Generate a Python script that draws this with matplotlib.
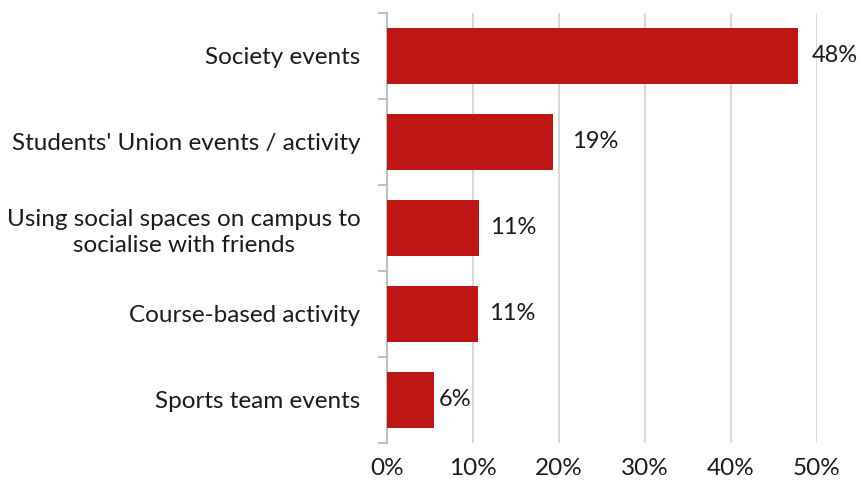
import numpy as np
import matplotlib.pyplot as plt

plt.rcParams['font.family'] = ['Lato', 'DejaVu Sans']

# survey responses, top to bottom
categories = ['Society events',
              "Students' Union events / activity",
              'Using social spaces on campus to\nsocialise with friends',
              'Course-based activity',
              'Sports team events']
values = [47.8, 19.3, 10.7, 10.6, 5.5]
labels = ['48%', '19%', '11%', '11%', '6%']
xticks = [0, 10, 20, 30, 40, 50]

bar_color = '#BE1515'
text_color = '#1A1A1A'
fs = 17.5

fig = plt.figure(figsize=(8.61, 4.91), dpi=100)
ax = fig.add_axes([387/861, 1 - 443/491, 430/861, 430/491])

y = np.arange(len(categories))
ax.barh(y, values, height=0.66, color=bar_color, zorder=3)

ax.set_xlim(0, 50)
ax.set_ylim(len(categories) - 0.5, -0.5)

# value labels just right of each bar
label_gap = [14, 19, 11, 11, 4]
for yi, v, lab, g in zip(y, values, labels, label_gap):
    ax.annotate(lab, (v, yi), xytext=(g * 0.72, 0), textcoords='offset points',
                va='center', ha='left', fontsize=17, color=text_color)

ax.set_xticks(xticks)
ax.set_xticklabels([f'{t}%' for t in xticks], fontsize=fs, color=text_color)
ax.tick_params(axis='x', length=0, pad=11)
ax.xaxis.grid(True, color='#D9D9D9', linewidth=1.5, zorder=0)

ax.set_yticks(y)
ax.set_yticklabels(categories, fontsize=fs, color=text_color,
                   multialignment='center', linespacing=1.3)
ax.tick_params(axis='y', which='major', length=0, pad=19)
ax.set_yticks(np.arange(-0.5, len(categories)), minor=True)
ax.tick_params(axis='y', which='minor', length=6.5, width=1.5, color='#BFBFBF')

for s in ['top', 'right', 'bottom']:
    ax.spines[s].set_visible(False)
ax.spines['left'].set_color('#BFBFBF')
ax.spines['left'].set_linewidth(1.5)
ax.set_axisbelow(True)

fig.savefig('out.png', dpi=100)
